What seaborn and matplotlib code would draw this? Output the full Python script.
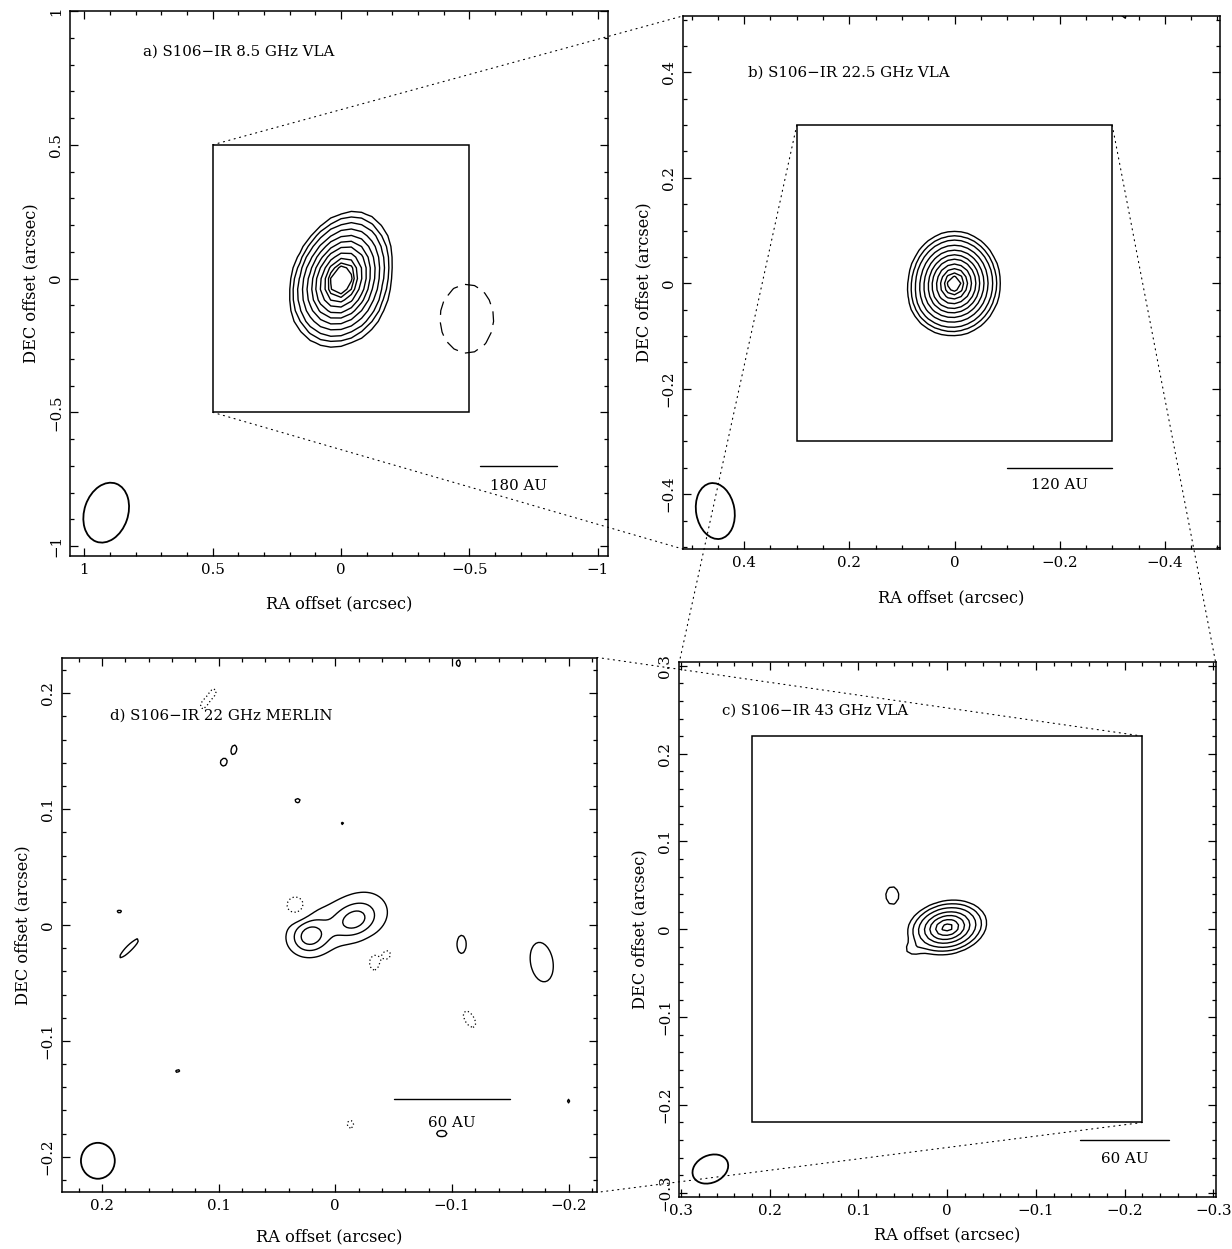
import numpy as np
import matplotlib
matplotlib.use("Agg")
import matplotlib.pyplot as plt
import seaborn as sns
from matplotlib.patches import Ellipse, Rectangle, ConnectionPatch
from matplotlib.ticker import MultipleLocator, FuncFormatter

# ---------------------------------------------------------------------------
# Source models (positions/sizes in arcsec, flux in rms units)
# pa = visual angle of the major axis, degrees counter-clockwise from "right"
# ---------------------------------------------------------------------------

# a) 8.5 GHz VLA
a_x = [0.0, -0.03, -0.49]
a_y = [0.004, -0.09, -0.15]
a_amp = [36.0, 5.0, -4.2]
a_smaj = [0.115, 0.09, 0.158]
a_smin = [0.082, 0.09, 0.128]
a_pa = [65.0, 0.0, 90.0]
a_levels = [-3, 3, 4.5, 6.5, 9.5, 13, 17, 21, 25.5, 29.5, 32.5, 34.5]

# b) 22.5 GHz VLA
b_x = [0.0, 0.04, -0.32]
b_y = [0.0, -0.04, 0.508]
b_amp = [36.0, 2.5, 3.5]
b_smaj = [0.044, 0.03, 0.016]
b_smin = [0.039, 0.03, 0.016]
b_pa = [90.0, 0.0, 0.0]
b_levels = [3, 4.5, 6.5, 9.5, 13, 17, 21, 25.5, 29.5, 32.5, 34.5]

# c) 43 GHz VLA
c_x = [0.0, 0.04, 0.062, 0.028]
c_y = [0.002, -0.024, 0.0386, -0.189]
c_amp = [24.0, 2.6, 3.8, 3.3]
c_smaj = [0.022, 0.008, 0.0147, 0.006]
c_smin = [0.0148, 0.006, 0.0107, 0.002]
c_pa = [12.0, 0.0, 90.0, 0.0]
c_levels = [3, 5, 8, 12, 16, 20, 23]

# d) 22 GHz MERLIN
d_x = [0.003, 0.022, -0.016, -0.03,
       0.105, 0.113, 0.0867, 0.0959, 0.0322, -0.0063, -0.1056, 0.0336,
       0.185, 0.1765, -0.0334, -0.0447, -0.1083, -0.177, -0.1151, -0.106,
       0.135, -0.013, -0.0913, -0.2]
d_y = [0.0, -0.010, 0.004, 0.012,
       0.200, 0.190, 0.1515, 0.1403, 0.1074, 0.0876, 0.226, 0.0163,
       0.0116, -0.020, -0.032, -0.0252, -0.0167, -0.032, -0.0813, -0.094,
       -0.126, -0.172, -0.180, -0.152]
d_amp = [4.0, 8.0, 6.0, 2.5,
         -3.6, -3.5, 3.6, 3.6, 3.5, 3.3, 3.6, -6.2,
         3.4, 3.8, -4.5, -4.0, 3.6, 3.8, -3.6, 3.3,
         3.3, -3.5, 3.5, 3.3]
d_smaj = [0.030, 0.011, 0.012, 0.017,
          0.007, 0.005, 0.0065, 0.005, 0.004, 0.003, 0.005, 0.0075,
          0.004, 0.0167, 0.008, 0.005, 0.013, 0.025, 0.013, 0.005,
          0.005, 0.006, 0.008, 0.004]
d_smin = [0.018, 0.010, 0.009, 0.017,
          0.004, 0.003, 0.004, 0.004, 0.0035, 0.003, 0.003, 0.0075,
          0.003, 0.0036, 0.005, 0.004, 0.0066, 0.014, 0.0066, 0.0025,
          0.003, 0.005, 0.005, 0.003]
d_pa = [20.0, 20.0, 25.0, 0.0,
        60.0, 60.0, 80.0, 90.0, 0.0, 0.0, 90.0, 0.0,
        0.0, 45.0, 90.0, 90.0, 90.0, 100.0, 120.0, 0.0,
        30.0, 90.0, 0.0, 90.0]
d_levels = [-3, 3, 6, 9]

# restoring beams: x, y, major, minor, pa
beam_a = [0.915, -0.875, 0.23, 0.17, 70.0]
beam_b = [0.455, -0.432, 0.107, 0.073, 100.0]
beam_c = [0.267, -0.273, 0.042, 0.031, 25.0]
beam_d = [0.2034, -0.2035, 0.031, 0.029, 90.0]

# scale bars: x1, x2, y, label, label y
bar_a = [-0.54, -0.84, -0.70, "180 AU", -0.775]
bar_b = [-0.10, -0.30, -0.35, "120 AU", -0.382]
bar_c = [-0.15, -0.25, -0.24, "60 AU", -0.262]
bar_d = [-0.05, -0.15, -0.15, "60 AU", -0.171]

titles = ["a) S106\u2212IR 8.5 GHz VLA", "b) S106\u2212IR 22.5 GHz VLA",
          "c) S106\u2212IR 43 GHz VLA", "d) S106\u2212IR 22 GHz MERLIN"]
title_xy = [(0.771, 0.849), (0.392, 0.399), (0.254, 0.249), (0.193, 0.181)]

zoom_boxes = [0.5, 0.3, 0.22]


def model_map(xs, ys, amps, smaj, smin, pas, step, half):
    g = np.arange(-half, half + step / 2, step)
    X, Y = np.meshgrid(g, g)
    Z = np.zeros_like(X)
    for x0, y0, A, sa, sb, p in zip(xs, ys, amps, smaj, smin, pas):
        phi = np.deg2rad(180.0 - p)  # RA axis runs right to left
        dx, dy = X - x0, Y - y0
        u = dx * np.cos(phi) + dy * np.sin(phi)
        v = -dx * np.sin(phi) + dy * np.cos(phi)
        Z += A * np.exp(-0.5 * ((u / sa) ** 2 + (v / sb) ** 2))
    return X, Y, Z


def tick_fmt(v, pos):
    s = "%g" % round(v, 6)
    if s in ("-0", "0"):
        return "0"
    return s.replace("-", "\u2212")


sns.set_theme(style="ticks")
plt.rcParams["font.family"] = ["DejaVu Serif"]
plt.rcParams["axes.linewidth"] = 1.1
plt.rcParams["axes.edgecolor"] = "black"
plt.rcParams["text.color"] = "black"
plt.rcParams["axes.labelcolor"] = "black"
plt.rcParams["xtick.color"] = "black"
plt.rcParams["ytick.color"] = "black"

fig = plt.figure(figsize=(12.32, 12.49), dpi=100)
W, H = 1232.0, 1249.0


def add_ax(l, r, t, b):
    return fig.add_axes([l / W, 1 - b / H, (r - l) / W, (b - t) / H])


ax_a = add_ax(70, 608, 11, 556)
ax_b = add_ax(682.7, 1220, 16, 549)
ax_c = add_ax(679.3, 1215.6, 662.3, 1196.7)
ax_d = add_ax(61.7, 597.5, 657.5, 1192.3)

dashed = (0, (11, 6))
dotted = (0, (1, 2))

panels = [
    (ax_a, (a_x, a_y, a_amp, a_smaj, a_smin, a_pa), a_levels, 0.04, 1.2,
     (1.056, -1.04), (-1.037, 1.0), 0.5, 0.1, beam_a, bar_a, dashed, 13),
    (ax_b, (b_x, b_y, b_amp, b_smaj, b_smin, b_pa), b_levels, 0.0125, 0.6,
     (0.517, -0.505), (-0.504, 0.507), 0.2, 0.05, beam_b, bar_b, dashed, 14),
    (ax_c, (c_x, c_y, c_amp, c_smaj, c_smin, c_pa), c_levels, 0.005, 0.35,
     (0.302, -0.3026), (-0.3045, 0.304), 0.1, 0.02, beam_c, bar_c, dashed, 6),
    (ax_d, (d_x, d_y, d_amp, d_smaj, d_smin, d_pa), d_levels, 0.002, 0.26,
     (0.2344, -0.2248), (-0.2307, 0.2309), 0.1, 0.02, beam_d, bar_d, dotted, 11),
]

for i, (ax, src, levels, step, half, xl, yl, maj, mnr, beam, bar, neg_ls, xpad) in enumerate(panels):
    X, Y, Z = model_map(*src, step, half)
    pos = [lv for lv in levels if lv > 0]
    neg = [lv for lv in levels if lv < 0]
    ax.contour(X, Y, Z, levels=pos, colors="black", linewidths=1.0,
               linestyles="solid")
    if neg:
        ax.contour(X, Y, Z, levels=neg, colors="black", linewidths=0.9,
                   linestyles=[neg_ls])
    ax.set_xlim(*xl)
    ax.set_ylim(*yl)

    # beam
    bx, by, bmaj, bmin, bpa = beam
    ax.add_patch(Ellipse((bx, by), bmaj, bmin, angle=180.0 - bpa,
                         fill=False, lw=1.3, ec="black"))
    # scale bar
    ax.plot([bar[0], bar[1]], [bar[2], bar[2]], color="black", lw=1.0)
    ax.text((bar[0] + bar[1]) / 2, bar[4], bar[3], ha="center", va="center",
            fontsize=10.8)
    # panel label
    ax.text(title_xy[i][0], title_xy[i][1], titles[i], ha="left", va="center",
            fontsize=10.8)
    # zoom box
    if i < 3:
        s = zoom_boxes[i]
        ax.add_patch(Rectangle((-s, -s), 2 * s, 2 * s, fill=False, lw=1.1,
                               ec="black", zorder=3))

    ax.xaxis.set_major_locator(MultipleLocator(maj))
    ax.yaxis.set_major_locator(MultipleLocator(maj))
    ax.xaxis.set_minor_locator(MultipleLocator(mnr))
    ax.yaxis.set_minor_locator(MultipleLocator(mnr))
    ax.xaxis.set_major_formatter(FuncFormatter(tick_fmt))
    ax.yaxis.set_major_formatter(FuncFormatter(tick_fmt))
    ax.tick_params(which="both", direction="in", top=True, right=True,
                   bottom=True, left=True, color="black", width=0.9)
    ax.tick_params(which="major", length=6, labelsize=10.8, pad=5)
    ax.tick_params(which="minor", length=3)
    ax.tick_params(axis="y", labelrotation=90)
    for lab in ax.get_yticklabels():
        lab.set_va("center")
    ax.set_xlabel("RA offset (arcsec)", fontsize=11.7, labelpad=xpad)
    ax.set_ylabel("DEC offset (arcsec)", fontsize=11.7, labelpad=7)
    ax.set_facecolor("white")
    ax.grid(False)

# dotted zoom connectors
dot = dict(linestyle=(0, (1, 4)), color="black", lw=0.8, clip_on=False)
links = [
    (ax_a, (0.5, 0.5), ax_b, (0, 1)),
    (ax_a, (0.5, -0.5), ax_b, (0, 0)),
    (ax_b, (0.3, 0.3), ax_c, (0, 1)),
    (ax_b, (-0.3, 0.3), ax_c, (1, 1)),
    (ax_c, (-0.22, 0.22), ax_d, (1, 1)),
    (ax_c, (-0.22, -0.22), ax_d, (1, 0)),
]
for axA, pA, axB, pB in links:
    cp = ConnectionPatch(xyA=pA, coordsA=axA.transData, xyB=pB,
                         coordsB=axB.transAxes, **dot)
    fig.add_artist(cp)

fig.savefig("out.png", dpi=100)
